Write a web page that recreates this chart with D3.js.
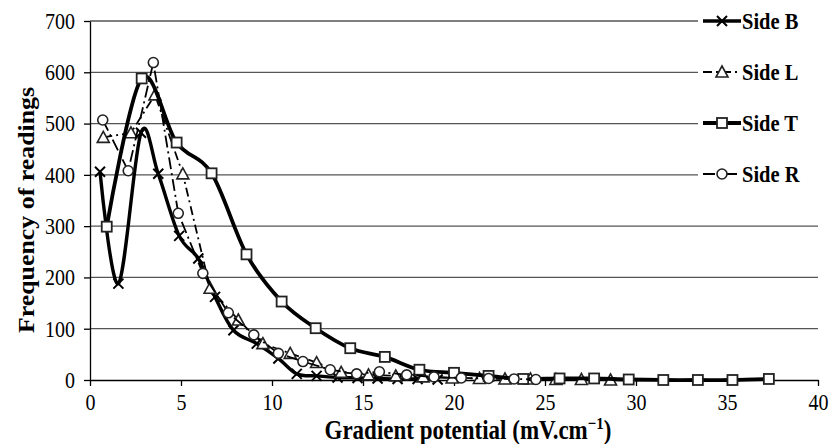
<!DOCTYPE html>
<html>
<head>
<meta charset="utf-8">
<script src="https://cdn.jsdelivr.net/npm/d3@7"></script>
<style>
  body { margin: 0; background: #fff; }
  svg, svg text { font-family: "Liberation Serif", "Times New Roman", Times, "DejaVu Serif", serif; fill: #000; }
</style>
</head>
<body>
<script>
'use strict';

// readings per side: [gradient potential, frequency]
const sideB = [[0.55,406],[1.56,188],[2.8,482],[3.75,402],[4.9,281],[5.95,237],[6.87,162],[7.88,97],
  [9.16,71],[10.35,42],[11.36,12],[12.45,8],[13.6,5],[14.7,4],[15.8,3],[16.9,2],[18.0,2],[19.1,1]];
const sideL = [[0.73,473],[2.25,482],[3.57,556],[5.1,402],[6.6,179],[8.15,117],[9.5,71],[11.0,52],
  [12.45,34],[13.8,15],[15.3,10],[16.8,8],[18.3,6],[19.9,4],[21.4,3],[22.8,2],[24.2,2],[25.6,1],[27.0,1],[28.6,0]];
const sideT = [[0.92,299],[2.84,588],[4.76,463],[6.68,403],[8.6,245],[10.53,153],[12.4,101],[14.3,62],
  [16.2,45],[18.1,20],[20.0,14],[21.9,8],[23.8,2],[25.8,3],[27.7,3],[29.6,1],[31.5,0],[33.4,0],[35.3,0],[37.3,2]];
const sideR = [[0.7,507],[2.1,408],[3.48,619],[4.85,325],[6.2,208],[7.6,131],[9.0,88],[10.35,52],
  [11.7,36],[13.2,20],[14.65,12],[15.9,16],[17.4,10],[18.9,6],[20.4,4],[21.9,3],[23.3,2],[24.5,1]];

const seriesNames = ['Side B', 'Side L', 'Side T', 'Side R'];
const xTicks = [0, 5, 10, 15, 20, 25, 30, 35, 40];
const yTicks = [0, 100, 200, 300, 400, 500, 600, 700];

const width = 829;
const height = 444;
const plotLeft = 90, plotRight = 818, plotTop = 21, plotBottom = 380;
const stretch = 'scale(1,1.15)';   // source type is a bit tall

let x = d3.scaleLinear().domain([0, 40]).range([plotLeft, plotRight]);
let y = d3.scaleLinear().domain([0, 700]).range([plotBottom, plotTop]);

let svg = d3.select('body').append('svg')
    .attr('width', width)
    .attr('height', height)
    .attr('font-family', '"Liberation Serif", serif');

// gridlines
svg.append('g')
    .selectAll('line')
    .data(yTicks.slice(1)).enter()
    .append('line')
    .attr('x1', plotLeft).attr('x2', plotRight)
    .attr('y1', d => y(d)).attr('y2', d => y(d))
    .style('stroke', '#555')
    .style('stroke-width', 1.3);

let xAxis = svg.append('g')
    .attr('transform', 'translate(0,' + plotBottom + ')')
    .call(d3.axisBottom(x).tickValues(xTicks).tickSize(6).tickPadding(6).tickSizeOuter(0));

let yAxis = svg.append('g')
    .attr('transform', 'translate(' + plotLeft + ',0)')
    .call(d3.axisLeft(y).tickValues(yTicks).tickSize(6).tickPadding(9).tickSizeOuter(0));

[xAxis, yAxis].forEach(function (g) {
    g.attr('font-family', null);
    g.selectAll('path, line').style('stroke', '#000').style('stroke-width', 1.3);
    g.selectAll('text')
        .style('font-size', '20px')
        .style('font-family', '"Liberation Serif", serif')
        .attr('transform', stretch);
});

// styles per series
let styles = [
    { data: sideB, smooth: true,  width: 3.4, dash: null,          mark: 'x' },
    { data: sideL, smooth: false, width: 1.8, dash: '9,4,2,4',     mark: 'tri' },
    { data: sideT, smooth: true,  width: 3.8, dash: null,          mark: 'sq' },
    { data: sideR, smooth: false, width: 1.8, dash: '12,4,2,4',    mark: 'circ' }
];

function drawMark(g, kind, cx, cy) {
    if (kind === 'x') {
        g.append('path')
            .attr('d', 'M' + (cx-5) + ',' + (cy-5) + 'L' + (cx+5) + ',' + (cy+5) +
                       'M' + (cx-5) + ',' + (cy+5) + 'L' + (cx+5) + ',' + (cy-5))
            .style('stroke', '#000').style('stroke-width', 2).style('fill', 'none');
    } else if (kind === 'sq') {
        g.append('rect')
            .attr('x', cx-5).attr('y', cy-5).attr('width', 10).attr('height', 10)
            .style('stroke', '#222').style('stroke-width', 1.8).style('fill', '#fff');
    } else if (kind === 'tri') {
        g.append('path')
            .attr('d', 'M' + cx + ',' + (cy-6) + 'L' + (cx+6) + ',' + (cy+5) + 'L' + (cx-6) + ',' + (cy+5) + 'Z')
            .style('stroke', '#222').style('stroke-width', 1.6).style('fill', '#fff');
    } else {
        g.append('circle')
            .attr('cx', cx).attr('cy', cy).attr('r', 5)
            .style('stroke', '#222').style('stroke-width', 1.6).style('fill', '#fff');
    }
}

let plot = svg.append('g');

styles.forEach(function (s) {
    let line = d3.line()
        .x(d => x(d[0]))
        .y(d => y(d[1]))
        .curve(s.smooth ? d3.curveCatmullRom.alpha(0) : d3.curveLinear);

    let g = plot.append('g');
    g.append('path')
        .datum(s.data)
        .attr('d', line)
        .style('fill', 'none')
        .style('stroke', '#000')
        .style('stroke-width', s.width)
        .style('stroke-dasharray', s.dash);

    s.data.forEach(function (d) {
        drawMark(g, s.mark, x(d[0]), y(d[1]));
    });
});

// legend, with white box over the plot corner
let legend = svg.append('g');
legend.append('rect')
    .attr('x', 698).attr('y', 0)
    .attr('width', width - 698).attr('height', 198)
    .style('fill', '#fff');

seriesNames.forEach(function (name, i) {
    let s = styles[i];
    let ly = 21 + i * 51;
    legend.append('line')
        .attr('x1', 703).attr('x2', 741)
        .attr('y1', ly).attr('y2', ly)
        .style('stroke', '#000')
        .style('stroke-width', s.width)
        .style('stroke-dasharray', s.dash);
    drawMark(legend, s.mark, 722, ly);
    legend.append('text')
        .attr('transform', 'translate(742,' + ly + ') ' + stretch)
        .attr('dy', '0.35em')
        .style('font-size', '20.5px')
        .style('font-weight', 'bold')
        .text(name);
});

// axis titles
let xTitle = svg.append('text')
    .attr('transform', 'translate(468,439) ' + stretch)
    .style('text-anchor', 'middle')
    .style('font-size', '23px')
    .style('font-weight', 'bold');
xTitle.append('tspan').text('Gradient potential (mV.cm');
xTitle.append('tspan').attr('dy', -9).style('font-size', '15px').text('\u22121');
xTitle.append('tspan').attr('dy', 9).text(')');

svg.append('text')
    .attr('transform', 'translate(34,210) ' + stretch + ' rotate(-90)')
    .style('text-anchor', 'middle')
    .style('font-size', '22.5px')
    .style('font-weight', 'bold')
    .text('Frequency of readings');
</script>
</body>
</html>
